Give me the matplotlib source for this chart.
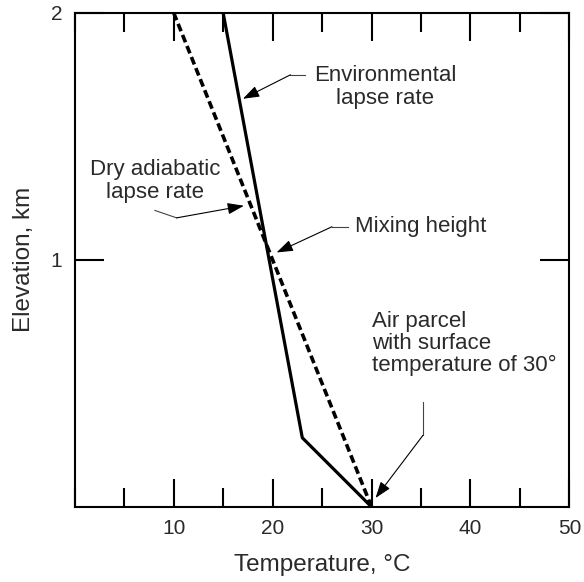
import matplotlib.pyplot as plt
from matplotlib.ticker import MultipleLocator

plt.rcParams['font.family'] = ['Liberation Sans', 'DejaVu Sans']

# environmental profile (temperature, elevation)
env_temp = [30, 23, 15]
env_elev = [0, 0.28, 2]

# dry adiabatic profile, 10 C per km
dry_temp = [30, 10]
dry_elev = [0, 2]

x_ticks = [10, 20, 30, 40, 50]
y_ticks = [1, 2]

txt = '#2a2a2a'
fig, ax = plt.subplots(figsize=(5.84, 5.82), dpi=100)
fig.subplots_adjust(left=0.128, right=0.975, top=0.978, bottom=0.129)

ax.plot(env_temp, env_elev, color='black', lw=2.3, solid_capstyle='butt', zorder=3)
ax.plot(dry_temp, dry_elev, color='black', lw=2.6, linestyle=(0, (2.2, 1.1)), zorder=3)

ax.set_xlim(0, 50)
ax.set_ylim(0, 2)
ax.set_xticks(x_ticks)
ax.set_yticks(y_ticks)
ax.xaxis.set_minor_locator(MultipleLocator(5))
ax.tick_params(axis='x', which='major', direction='in', length=20, width=1.5,
               top=True, labelsize=15, pad=9, labelcolor=txt)
ax.tick_params(axis='x', which='minor', direction='in', length=14, width=1.5, top=True)
ax.tick_params(axis='y', which='major', direction='in', length=21, width=1.5,
               right=True, labelsize=15, pad=9, labelcolor=txt)
for s in ax.spines.values():
    s.set_linewidth(1.5)

ax.set_xlabel('Temperature, °C', fontsize=17.5, color=txt, labelpad=11)
ax.set_ylabel('Elevation, km', fontsize=17.5, color=txt, labelpad=11)

arrow = dict(arrowstyle='-|>,head_length=1.0,head_width=0.35', color='black',
             lw=0.8, shrinkA=0, shrinkB=0)
lead = dict(color='#444444', lw=0.8)

# Environmental lapse rate
ax.text(31.4, 1.70, 'Environmental\nlapse rate', ha='center', va='center',
        fontsize=16, color=txt, linespacing=1.1)
ax.plot([23.3, 21.8], [1.749, 1.749], **lead)
ax.annotate('', xy=(17.0, 1.652), xytext=(21.8, 1.749), arrowprops=arrow)

# Dry adiabatic lapse rate
ax.text(8.1, 1.32, 'Dry adiabatic\nlapse rate', ha='center', va='center',
        fontsize=16, color=txt, linespacing=1.1)
ax.plot([8.1, 10.3], [1.20, 1.17], **lead)
ax.annotate('', xy=(17.1, 1.219), xytext=(10.3, 1.17), arrowprops=arrow)

# Mixing height
ax.text(28.3, 1.134, 'Mixing height', ha='left', va='center',
        fontsize=16, color=txt)
ax.plot([27.6, 26.0], [1.134, 1.134], **lead)
ax.annotate('', xy=(20.4, 1.03), xytext=(26.0, 1.134), arrowprops=arrow)

# Air parcel
ax.text(30.0, 0.66, 'Air parcel\nwith surface\ntemperature of 30°', ha='left',
        va='center', fontsize=16, color=txt, linespacing=1.05)
ax.plot([35.2, 35.2], [0.425, 0.29], **lead)
ax.annotate('', xy=(30.4, 0.036), xytext=(35.2, 0.29), arrowprops=arrow)

fig.savefig('out.png', dpi=100)
